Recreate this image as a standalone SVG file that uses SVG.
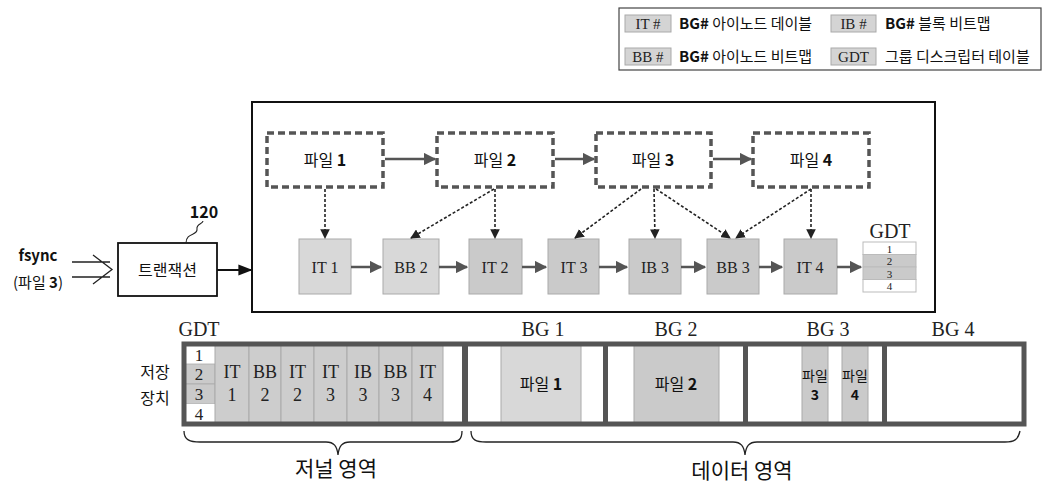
<svg xmlns="http://www.w3.org/2000/svg" width="1046" height="489" viewBox="0 0 1046 489">
<style>
.ko{font-family:"Noto Sans CJK KR","Liberation Sans",sans-serif;fill:#111}
.se{font-family:"Liberation Serif",serif;fill:#222}
.b{font-weight:bold}
.dash{fill:#fff;stroke:#555;stroke-width:3.5;stroke-dasharray:7,4}
.blk{stroke:#aaa;stroke-width:1}
.lt{fill:#d8d8d8}
.dk{fill:#cacaca}
.harr{stroke:#555;stroke-width:2.5;fill:none}
.dot{stroke:#222;stroke-width:1.6;stroke-dasharray:3,2;fill:none}
.thick{fill:none;stroke:#555;stroke-width:5}
.brace{fill:none;stroke:#222;stroke-width:1.3}
</style>
<defs>
<marker id="ag" viewBox="0 0 10 10" refX="9" refY="5" markerWidth="5" markerHeight="5" orient="auto" markerUnits="strokeWidth"><path d="M0,0 L10,5 L0,10 z" fill="#555"/></marker>
<marker id="ab" viewBox="0 0 10 10" refX="9" refY="5" markerWidth="6" markerHeight="6" orient="auto" markerUnits="strokeWidth"><path d="M0,0 L10,5 L0,10 z" fill="#222"/></marker>
<marker id="ak" viewBox="0 0 10 10" refX="9" refY="5" markerWidth="7" markerHeight="7" orient="auto" markerUnits="strokeWidth"><path d="M0,1 L10,5 L0,9 z" fill="#111"/></marker>
</defs>
<rect width="1046" height="489" fill="#fff"/>

<g id="legend">
<rect x="619" y="8" width="422" height="62" fill="#fff" stroke="#444" stroke-width="1.2"/>
<rect x="625" y="15" width="46" height="17" fill="#d4d4d4" stroke="#aaa"/>
<text x="648" y="28.5" class="se" font-size="15" text-anchor="middle">IT #</text>
<text x="679" y="29" class="ko" font-size="15"><tspan class="b">BG#</tspan> 아이노드 데이블</text>
<rect x="831" y="15" width="45" height="17" fill="#d4d4d4" stroke="#aaa"/>
<text x="853.5" y="28.5" class="se" font-size="15" text-anchor="middle">IB #</text>
<text x="885" y="29" class="ko" font-size="15"><tspan class="b">BG#</tspan> 블록 비트맵</text>
<rect x="625" y="48" width="46" height="17" fill="#d4d4d4" stroke="#aaa"/>
<text x="648" y="61.5" class="se" font-size="15" text-anchor="middle">BB #</text>
<text x="679" y="62" class="ko" font-size="15"><tspan class="b">BG#</tspan> 아이노드 비트맵</text>
<rect x="831" y="48" width="45" height="17" fill="#d4d4d4" stroke="#aaa"/>
<text x="853.5" y="61.5" class="se" font-size="15" text-anchor="middle">GDT</text>
<text x="885" y="62" class="ko" font-size="15">그룹 디스크립터 테이블</text>
</g>

<g id="fsync">
<text x="38" y="261" class="ko b" font-size="15" text-anchor="middle">fsync</text>
<text x="38" y="288" class="ko" font-size="15" text-anchor="middle">(파일 <tspan class="b">3</tspan>)</text>
<path d="M72,262 H110 M72,277 H110 M93,255 L112,269.5 L93,284" fill="none" stroke="#222" stroke-width="1.3"/>
</g>

<g id="transaction">
<rect x="118" y="243" width="99" height="53" fill="#fff" stroke="#111" stroke-width="1.8"/>
<text x="167.5" y="276" class="ko" font-size="16" text-anchor="middle">트랜잭션</text>
<text x="204" y="218" class="ko b" font-size="16" text-anchor="middle">120</text>
<path d="M186,243 C186,232 198,236 197,229 C196,224 203,224 203,221" fill="none" stroke="#222" stroke-width="1.1"/>
</g>

<g id="txn-box">
<rect x="252" y="102" width="683" height="210" fill="#fff" stroke="#111" stroke-width="2"/>
</g>

<g id="file1"><rect x="267" y="133" width="116" height="54" class="dash"/><text x="325" y="166" class="ko" font-size="16" text-anchor="middle">파일 <tspan class="b">1</tspan></text></g>
<g id="file2"><rect x="437" y="133" width="116" height="54" class="dash"/><text x="495" y="166" class="ko" font-size="16" text-anchor="middle">파일 <tspan class="b">2</tspan></text></g>
<g id="file3"><rect x="596" y="133" width="115" height="54" class="dash"/><text x="653" y="166" class="ko" font-size="16" text-anchor="middle">파일 <tspan class="b">3</tspan></text></g>
<g id="file4"><rect x="753" y="133" width="116" height="54" class="dash"/><text x="811" y="166" class="ko" font-size="16" text-anchor="middle">파일 <tspan class="b">4</tspan></text></g>

<g id="it1"><rect x="299" y="239" width="52" height="55" class="blk lt"/><text x="325" y="273" class="se" font-size="16" text-anchor="middle">IT 1</text></g>
<g id="bb2"><rect x="383" y="239" width="56" height="55" class="blk lt"/><text x="411" y="273" class="se" font-size="16" text-anchor="middle">BB 2</text></g>
<g id="it2"><rect x="469" y="239" width="53" height="55" class="blk dk"/><text x="495" y="273" class="se" font-size="16" text-anchor="middle">IT 2</text></g>
<g id="it3"><rect x="548" y="239" width="51" height="55" class="blk dk"/><text x="574" y="273" class="se" font-size="16" text-anchor="middle">IT 3</text></g>
<g id="ib3"><rect x="629" y="239" width="52" height="55" class="blk dk"/><text x="655" y="273" class="se" font-size="16" text-anchor="middle">IB 3</text></g>
<g id="bb3"><rect x="707" y="239" width="52" height="55" class="blk dk"/><text x="733" y="273" class="se" font-size="16" text-anchor="middle">BB 3</text></g>
<g id="it4"><rect x="784" y="239" width="53" height="55" class="blk dk"/><text x="810" y="273" class="se" font-size="16" text-anchor="middle">IT 4</text></g>

<g id="gdt-mem">
<text x="890" y="238" class="se" font-size="20" text-anchor="middle">GDT</text>
<rect x="863" y="242" width="53" height="12.5" fill="#fff" stroke="#bbb"/>
<rect x="863" y="254.5" width="53" height="12.5" fill="#cacaca" stroke="#bbb"/>
<rect x="863" y="267" width="53" height="12.5" fill="#cacaca" stroke="#bbb"/>
<rect x="863" y="279.5" width="53" height="12.5" fill="#fff" stroke="#bbb"/>
<g class="se" font-size="11" text-anchor="middle">
<text x="889.5" y="252.5">1</text><text x="889.5" y="265">2</text><text x="889.5" y="277.5">3</text><text x="889.5" y="290">4</text>
</g>
</g>

<g id="connectors">
<line x1="217" y1="270" x2="251" y2="270" stroke="#111" stroke-width="2" marker-end="url(#ak)"/>
<line x1="385" y1="159" x2="435" y2="159" class="harr" marker-end="url(#ag)"/>
<line x1="555" y1="159" x2="594" y2="159" class="harr" marker-end="url(#ag)"/>
<line x1="713" y1="159" x2="751" y2="159" class="harr" marker-end="url(#ag)"/>
<line x1="351" y1="267" x2="381" y2="267" class="harr" marker-end="url(#ag)"/>
<line x1="439" y1="267" x2="467" y2="267" class="harr" marker-end="url(#ag)"/>
<line x1="522" y1="267" x2="546" y2="267" class="harr" marker-end="url(#ag)"/>
<line x1="599" y1="267" x2="627" y2="267" class="harr" marker-end="url(#ag)"/>
<line x1="681" y1="267" x2="705" y2="267" class="harr" marker-end="url(#ag)"/>
<line x1="759" y1="267" x2="782" y2="267" class="harr" marker-end="url(#ag)"/>
<line x1="837" y1="267" x2="861" y2="267" class="harr" marker-end="url(#ag)"/>
<line x1="325" y1="189" x2="325" y2="238" class="dot" marker-end="url(#ab)"/>
<line x1="494" y1="189" x2="411" y2="238" class="dot" marker-end="url(#ab)"/>
<line x1="495" y1="189" x2="495" y2="238" class="dot" marker-end="url(#ab)"/>
<line x1="641" y1="189" x2="575" y2="238" class="dot" marker-end="url(#ab)"/>
<line x1="654" y1="189" x2="655" y2="238" class="dot" marker-end="url(#ab)"/>
<line x1="656" y1="189" x2="730" y2="238" class="dot" marker-end="url(#ab)"/>
<line x1="811" y1="189" x2="736" y2="238" class="dot" marker-end="url(#ab)"/>
<line x1="811" y1="189" x2="811" y2="238" class="dot" marker-end="url(#ab)"/>
</g>

<g id="storage">
<text x="155" y="378" class="ko" font-size="16" text-anchor="middle">저장</text>
<text x="155" y="404" class="ko" font-size="16" text-anchor="middle">장치</text>
<text x="199" y="336" class="se" font-size="20" text-anchor="middle">GDT</text>
<text x="543" y="336" class="se" font-size="20" text-anchor="middle">BG 1</text>
<text x="676" y="336" class="se" font-size="20" text-anchor="middle">BG 2</text>
<text x="828" y="336" class="se" font-size="20" text-anchor="middle">BG 3</text>
<text x="953" y="336" class="se" font-size="20" text-anchor="middle">BG 4</text>

<rect x="184" y="345" width="31" height="19" fill="#fff"/>
<rect x="184" y="364" width="31" height="20" fill="#cacaca" stroke="#aaa" stroke-width="0.8"/>
<rect x="184" y="384" width="31" height="20" fill="#cacaca" stroke="#aaa" stroke-width="0.8"/>
<rect x="184" y="404" width="31" height="19" fill="#fff"/>
<g class="se" font-size="17" text-anchor="middle">
<text x="199" y="361">1</text><text x="199" y="380">2</text><text x="199" y="400">3</text><text x="199" y="420">4</text>
</g>
<g class="blk" fill="#cdcdcd">
<rect x="215" y="345" width="34" height="78"/>
<rect x="249" y="345" width="32" height="78"/>
<rect x="281" y="345" width="33" height="78"/>
<rect x="314" y="345" width="33" height="78"/>
<rect x="347" y="345" width="32" height="78"/>
<rect x="379" y="345" width="33" height="78"/>
<rect x="412" y="345" width="31" height="78"/>
</g>
<g class="se" font-size="18" text-anchor="middle">
<text x="232" y="378">IT</text><text x="232" y="401">1</text>
<text x="265" y="378">BB</text><text x="265" y="401">2</text>
<text x="297.5" y="378">IT</text><text x="297.5" y="401">2</text>
<text x="330.5" y="378">IT</text><text x="330.5" y="401">3</text>
<text x="363" y="378">IB</text><text x="363" y="401">3</text>
<text x="395.5" y="378">BB</text><text x="395.5" y="401">3</text>
<text x="427.5" y="378">IT</text><text x="427.5" y="401">4</text>
</g>

<rect x="501" y="345" width="80" height="78" class="blk lt"/>
<text x="541" y="390" class="ko" font-size="16" text-anchor="middle">파일 <tspan class="b">1</tspan></text>
<rect x="634" y="345" width="85" height="78" class="blk dk"/>
<text x="676" y="390" class="ko" font-size="16" text-anchor="middle">파일 <tspan class="b">2</tspan></text>
<rect x="802" y="345" width="26" height="78" class="blk dk"/>
<text x="815" y="381" class="ko" font-size="14" text-anchor="middle">파일</text>
<text x="815" y="400" class="ko b" font-size="14" text-anchor="middle">3</text>
<rect x="842" y="345" width="26" height="78" class="blk dk"/>
<text x="855" y="381" class="ko" font-size="14" text-anchor="middle">파일</text>
<text x="855" y="400" class="ko b" font-size="14" text-anchor="middle">4</text>

<rect x="184" y="344" width="840" height="80" class="thick"/>
<line x1="465" y1="344" x2="465" y2="424" stroke="#555" stroke-width="6"/>
<line x1="605.5" y1="344" x2="605.5" y2="424" stroke="#555" stroke-width="5"/>
<line x1="745.5" y1="344" x2="745.5" y2="424" stroke="#555" stroke-width="5"/>
<line x1="884.5" y1="344" x2="884.5" y2="424" stroke="#555" stroke-width="5"/>
</g>

<g id="braces">
<path d="M184,431 C184,440 190,442 200,442 H326 C334,442 337,446 338,455 C339,446 342,442 350,442 H450 C458,442 462,440 462,431" class="brace"/>
<path d="M471,431 C471,440 476,442 486,442 H733 C741,442 744,446 745,455 C746,446 749,442 757,442 H1005 C1014,442 1018,440 1020,431" class="brace"/>
<text x="336" y="476" class="ko" font-size="21" text-anchor="middle">저널 영역</text>
<text x="742" y="478" class="ko" font-size="21" text-anchor="middle">데이터 영역</text>
</g>
</svg>
